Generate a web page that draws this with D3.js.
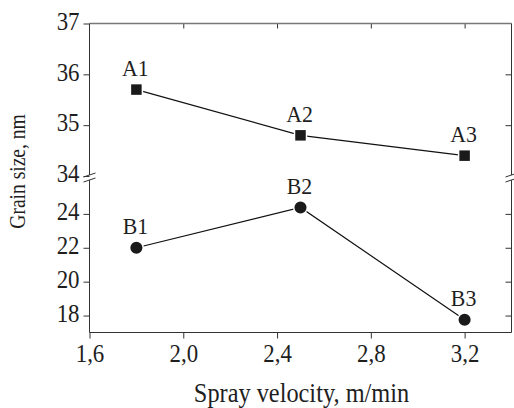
<!DOCTYPE html>
<html>
<head>
<meta charset="utf-8">
<script src="https://cdn.jsdelivr.net/npm/d3@7"></script>
<style>
  body { margin: 0; background: #fff; }
  svg { display: block; }
  text { font-family: "Liberation Serif", "Times New Roman", serif; fill: #1e1e1e; }
</style>
</head>
<body>
<div id="visual"></div>
<script>
// data
var velocity = [1.8, 2.5, 3.2];
var seriesA = [35.7, 34.8, 34.4];
var seriesB = [22.0, 24.38, 17.75];
var labelsA = ["A1", "A2", "A3"];
var labelsB = ["B1", "B2", "B3"];
var xTicks = [1.6, 2.0, 2.4, 2.8, 3.2];
var yTicksTop = [34, 35, 36, 37];
var yTicksBot = [18, 20, 22, 24];

var width = 514,
  height = 408,
  mLeft = 89.5,
  mRight = 511.5,
  mTop = 23.5,
  mBottom = 332.5;

// the original uses a narrow Times, so text is squeezed horizontally
var tickSx = 0.88;

var xScale = d3.scaleLinear().domain([1.6, 3.4]).range([mLeft, mRight]);
// broken y axis: two panels
var yTop = d3.scaleLinear().domain([34, 37]).range([176, mTop]);
var yBot = d3.scaleLinear().domain([17, 26]).range([mBottom, 180]);

var svg = d3
  .select("#visual")
  .append("svg")
  .attr("width", width)
  .attr("height", height);

var lineColor = "#333";

//Axes with d3
function styleAxis(g) {
  g.select(".domain").remove();
  g.selectAll(".tick line").attr("stroke", lineColor);
  g.selectAll(".tick text")
    .attr("font-size", 26)
    .attr("fill", "#1e1e1e")
    .attr("x", function() { return (+d3.select(this).attr("x") || 0) / tickSx; })
    .attr("transform", "scale(" + tickSx + ",1)");
}

svg.append("g")
  .attr("transform", "translate(" + mLeft + ",0)")
  .call(d3.axisLeft(yTop).tickValues(yTicksTop).tickSize(6).tickPadding(4).tickFormat(d3.format("d")))
  .call(styleAxis)
  .selectAll(".tick text").attr("dy", "0.22em");

svg.append("g")
  .attr("transform", "translate(" + mLeft + ",0)")
  .call(d3.axisLeft(yBot).tickValues(yTicksBot).tickSize(6).tickPadding(4).tickFormat(d3.format("d")))
  .call(styleAxis)
  .selectAll(".tick text").attr("dy", "0.22em");

svg.append("g")
  .attr("transform", "translate(0," + mBottom + ")")
  .call(d3.axisBottom(xScale).tickValues(xTicks).tickSize(6).tickPadding(5)
    .tickFormat(d => d3.format(".1f")(d).replace(".", ",")))
  .call(styleAxis);

// mirror ticks, inward, no labels
svg.append("g")
  .attr("transform", "translate(0," + mTop + ")")
  .call(d3.axisBottom(xScale).tickValues(xTicks.slice(1)).tickSize(5).tickFormat(""))
  .call(styleAxis);

svg.append("g")
  .attr("transform", "translate(" + mRight + ",0)")
  .call(d3.axisLeft(yTop).tickValues([35, 36]).tickSize(6).tickFormat(""))
  .call(styleAxis);

svg.append("g")
  .attr("transform", "translate(" + mRight + ",0)")
  .call(d3.axisLeft(yBot).tickValues(yTicksBot).tickSize(6).tickFormat(""))
  .call(styleAxis);

// frame lines
var frame = svg.append("g").attr("stroke", lineColor).attr("stroke-width", 1).attr("fill", "none");
frame.append("line").attr("x1", mLeft).attr("x2", mRight).attr("y1", mTop).attr("y2", mTop).attr("stroke", "#777").attr("stroke-width", 1.4);
frame.append("line").attr("x1", mLeft).attr("x2", mRight).attr("y1", mBottom).attr("y2", mBottom);
[mLeft, mRight].forEach(function(x) {
  frame.append("line").attr("x1", x).attr("x2", x).attr("y1", mTop).attr("y2", 175);
  frame.append("line").attr("x1", x).attr("x2", x).attr("y1", 180).attr("y2", mBottom);
  // break marks //
  frame.append("line").attr("x1", x - 6).attr("x2", x + 6).attr("y1", 177).attr("y2", 173);
  frame.append("line").attr("x1", x - 6).attr("x2", x + 6).attr("y1", 182).attr("y2", 178);
});

// series lines
var lineA = d3.line().x((d, i) => xScale(velocity[i])).y(d => yTop(d));
var lineB = d3.line().x((d, i) => xScale(velocity[i])).y(d => yBot(d));

svg.append("path").datum(seriesA).attr("d", lineA).attr("fill", "none").attr("stroke", "#111").attr("stroke-width", 1.2);
svg.append("path").datum(seriesB).attr("d", lineB).attr("fill", "none").attr("stroke", "#111").attr("stroke-width", 1.2);

// markers
svg.selectAll("rect.mA")
  .data(seriesA)
  .enter()
  .append("rect")
  .attr("class", "mA")
  .attr("x", (d, i) => xScale(velocity[i]) - 6)
  .attr("y", d => yTop(d) - 6)
  .attr("width", 12)
  .attr("height", 12)
  .attr("fill", "#1a1a1a")
  .attr("stroke", "#fff")
  .attr("stroke-width", 1.5);

svg.selectAll("circle.mB")
  .data(seriesB)
  .enter()
  .append("circle")
  .attr("class", "mB")
  .attr("cx", (d, i) => xScale(velocity[i]))
  .attr("cy", d => yBot(d))
  .attr("r", 6.8)
  .attr("fill", "#1a1a1a")
  .attr("stroke", "#fff")
  .attr("stroke-width", 1.5);

// point labels
svg.selectAll("text.lA")
  .data(seriesA)
  .enter()
  .append("text")
  .attr("transform", (d, i) => "translate(" + (xScale(velocity[i]) - 1) + "," + (yTop(d) - 13.5) + ") scale(0.95,1)")
  .attr("text-anchor", "middle")
  .attr("font-size", 23)
  .text((d, i) => labelsA[i]);

svg.selectAll("text.lB")
  .data(seriesB)
  .enter()
  .append("text")
  .attr("transform", (d, i) => "translate(" + (xScale(velocity[i]) - 1) + "," + (yBot(d) - 13.5) + ") scale(0.95,1)")
  .attr("text-anchor", "middle")
  .attr("font-size", 23)
  .text((d, i) => labelsB[i]);

// axis titles
svg.append("text")
  .attr("transform", "translate(301.5,401.5) scale(0.885,1)")
  .attr("text-anchor", "middle")
  .attr("font-size", 27.5)
  .text("Spray velocity, m/min");

svg.append("text")
  .attr("transform", "translate(25,171.5) rotate(-90) scale(0.85,1)")
  .attr("text-anchor", "middle")
  .attr("font-size", 23)
  .text("Grain size, nm");
</script>
</body>
</html>
